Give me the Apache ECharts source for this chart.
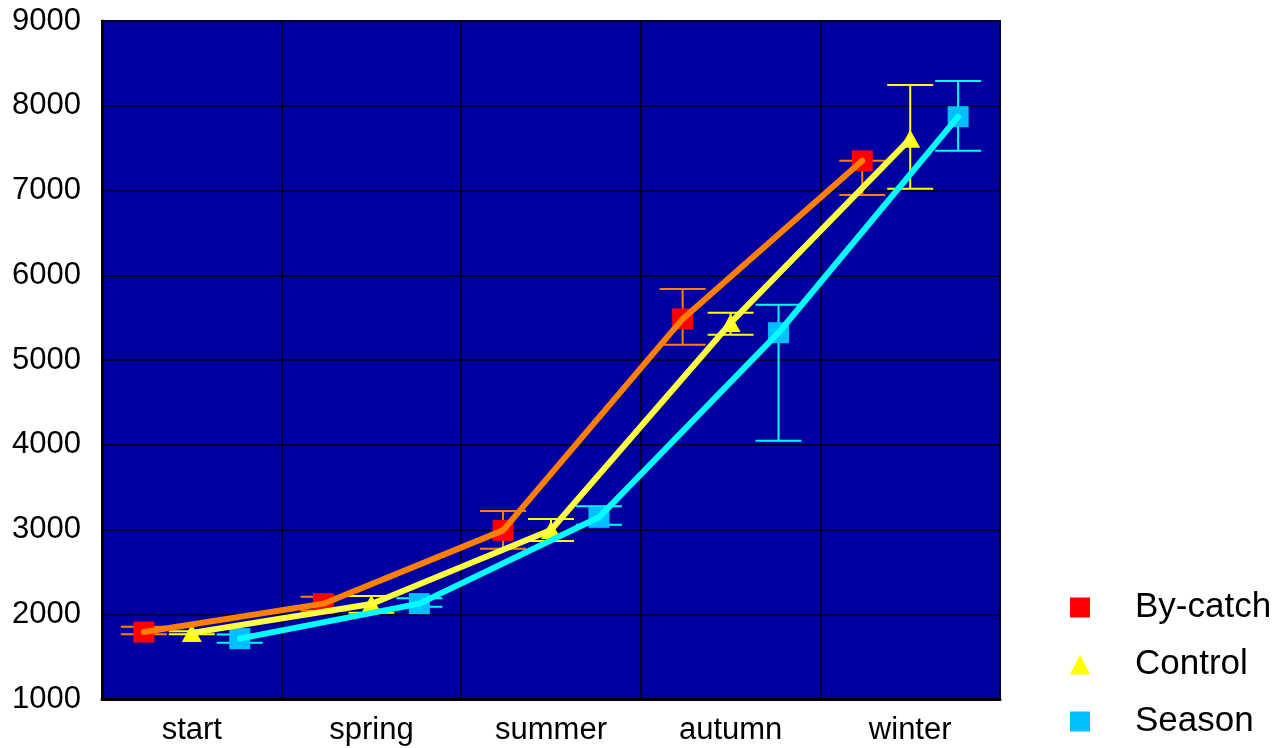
<!DOCTYPE html>
<html>
<head>
<meta charset="utf-8">
<script src="https://cdn.jsdelivr.net/npm/echarts@6/dist/echarts.min.js"></script>
<style>
html,body{margin:0;padding:0;background:#fff;}
#chart{width:1288px;height:748px;}
</style>
</head>
<body>
<div id="chart"></div>
<script>
const categories = ['start', 'spring', 'summer', 'autumn', 'winter'];
const yTicks = [1000, 2000, 3000, 4000, 5000, 6000, 7000, 8000, 9000];

const bycatch     = [1790, 2125, 2990, 5485, 7350];
const bycatchLow  = [1763, 2045, 2773, 5181, 6947];
const bycatchHigh = [1853, 2207, 3218, 5838, 7350];

const control     = [1780, 2120, 2995, 5437, 7610];
const controlLow  = [1763, 2018, 2864, 5298, 7021];
const controlHigh = [1800, 2215, 3124, 5558, 8245];

const season      = [1712, 2125, 3144, 5322, 7871];
const seasonLow   = [1664, 2089, 3057, 4048, 7470];
const seasonHigh  = [1760, 2188, 3274, 5653, 8292];

const seriesNames = ['By-catch', 'Control', 'Season'];
const OFFSETS = [-0.267, 0, 0.267];

function pts(vals, k) {
  return vals.map((v, i) => [i + 0.5 + OFFSETS[k], v]);
}
function errPts(lo, hi, k) {
  return lo.map((l, i) => [i + 0.5 + OFFSETS[k], l, hi[i]]);
}
function errSeries(lo, hi, k, color) {
  return {
    type: 'custom',
    xAxisIndex: 1,
    z: 1,
    silent: true,
    data: errPts(lo, hi, k),
    renderItem: function (params, api) {
      const x = api.value(0);
      const pLo = api.coord([x, api.value(1)]);
      const pHi = api.coord([x, api.value(2)]);
      const w = 23;
      const children = [
        {type: 'line', shape: {x1: pLo[0], y1: pLo[1], x2: pHi[0], y2: pHi[1]}, style: {stroke: color, lineWidth: 2}},
        {type: 'line', shape: {x1: pLo[0] - w, y1: pLo[1], x2: pLo[0] + w, y2: pLo[1]}, style: {stroke: color, lineWidth: 2}}
      ];
      if (Math.abs(pHi[1] - pLo[1]) > 0.5) {
        children.push({type: 'line', shape: {x1: pHi[0] - w, y1: pHi[1], x2: pHi[0] + w, y2: pHi[1]}, style: {stroke: color, lineWidth: 2}});
      }
      return {type: 'group', children: children};
    }
  };
}

const markerColors = ['#ff0000', '#ffff00', '#00bfff'];
const lineColors = ['#ff8000', '#ffff40', '#00ffff'];
const errColors = ['#ff8000', '#ffff00', '#00ffff'];
const symbols = ['rect', 'triangle', 'rect'];
const symbolSizes = [21, [20, 18], 21];
const values = [bycatch, control, season];
const lows = [bycatchLow, controlLow, seasonLow];
const highs = [bycatchHigh, controlHigh, seasonHigh];

const series = [];
for (let k = 0; k < 3; k++) {
  series.push(errSeries(lows[k], highs[k], k, errColors[k]));
}
for (let k = 0; k < 3; k++) {
  series.push({
    name: seriesNames[k],
    type: 'scatter',
    xAxisIndex: 1,
    z: 2,
    symbol: symbols[k],
    symbolSize: symbolSizes[k],
    itemStyle: {color: markerColors[k], opacity: 1},
    data: pts(values[k], k)
  });
}
for (let k = 0; k < 3; k++) {
  series.push({
    name: seriesNames[k] + ' line',
    type: 'line',
    xAxisIndex: 1,
    z: 3,
    showSymbol: false,
    symbol: 'none',
    lineStyle: {color: lineColors[k], width: 6, cap: 'round', join: 'round'},
    itemStyle: {color: lineColors[k]},
    data: pts(values[k], k),
    animation: false
  });
}

const chart = echarts.init(document.getElementById('chart'));
chart.setOption({
  animation: false,
  backgroundColor: '#ffffff',
  grid: {
    left: 102, top: 21, right: 288, bottom: 49,
    show: true, backgroundColor: '#0000a0', borderColor: '#000000', borderWidth: 2
  },
  legend: {
    orient: 'vertical',
    left: 1070,
    top: 590,
    height: 158,
    itemWidth: 20,
    itemHeight: 20,
    itemGap: 22,
    padding: 0,
    data: [
      {name: 'By-catch', icon: 'rect', itemStyle: {color: '#ff0000'}},
      {name: 'Control', icon: 'triangle', itemStyle: {color: '#ffff00'}},
      {name: 'Season', icon: 'rect', itemStyle: {color: '#00bfff'}}
    ],
    textStyle: {
      fontFamily: 'Liberation Sans, Arial, sans-serif',
      fontSize: 35,
      lineHeight: 34,
      color: '#000000',
      padding: [0, 0, 0, 40]
    },
    selectedMode: false
  },
  xAxis: [
    {
      type: 'category',
      data: categories,
      boundaryGap: true,
      position: 'bottom',
      axisLine: {show: true, lineStyle: {color: '#000000', width: 3}},
      axisTick: {show: false},
      axisLabel: {fontFamily: 'Liberation Sans, Arial, sans-serif', fontSize: 31, color: '#000000', margin: 16},
      splitLine: {show: true, interval: 0, lineStyle: {color: '#000033', width: 2}}
    },
    {
      type: 'value',
      min: 0,
      max: 5,
      show: false
    }
  ],
  yAxis: {
    type: 'value',
    min: yTicks[0],
    max: yTicks[yTicks.length - 1],
    interval: 1000,
    axisLine: {show: true, lineStyle: {color: '#000000', width: 3}},
    axisTick: {show: false},
    axisLabel: {fontFamily: 'Liberation Sans, Arial, sans-serif', fontSize: 31, color: '#000000', margin: 21,
      formatter: function (v) { return String(v); }},
    splitLine: {show: true, lineStyle: {color: '#000033', width: 2}}
  },
  series: series
});
</script>
</body>
</html>
